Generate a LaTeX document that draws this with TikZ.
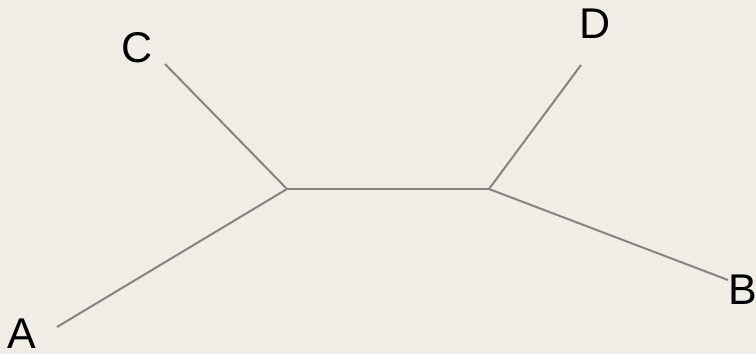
\documentclass[tikz,border=0pt]{standalone}
\usepackage{fontspec}
\setmainfont{Liberation Sans}
\usepackage{xcolor}
\usetikzlibrary{positioning}
\definecolor{tree-bg}{HTML}{EFEDE6}
\definecolor{tree-gray}{HTML}{85857F}

\begin{document}
\begin{tikzpicture}[
    x=1pt, y=-1pt,
    leaf/.style={inner sep=0pt, font=\fontsize{43}{43}\selectfont, text=black},
    branch/.style={line width=2pt, tree-gray},
]
    % background and size
    \fill[tree-bg] (0, 0) rectangle (756, 354);
    \useasboundingbox (0, 0) rectangle (756, 354);

    % Leaf labels
    \node[leaf] (A) at (21.5, 333.5) {A};
    \node[leaf] (B) at (743, 289.5) {B};
    \node[leaf] (C) at (137.5, 47.5) {C};
    \node[leaf] (D) at (595.5, 24) {D};

    % Branch ends and inner vertices
    \coordinate (tipA) at (57, 327);
    \coordinate (tipB) at (728, 280);
    \coordinate (tipC) at (165, 64);
    \coordinate (tipD) at (581, 65);
    \coordinate (left) at (287, 189);
    \coordinate (right) at (489, 189);

    % Branches
    \draw[branch] (tipA) -- (left);
    \draw[branch] (tipC) -- (left);
    \draw[branch] (left) -- (right);
    \draw[branch] (tipD) -- (right);
    \draw[branch] (right) -- (tipB);

\end{tikzpicture}
\end{document}
